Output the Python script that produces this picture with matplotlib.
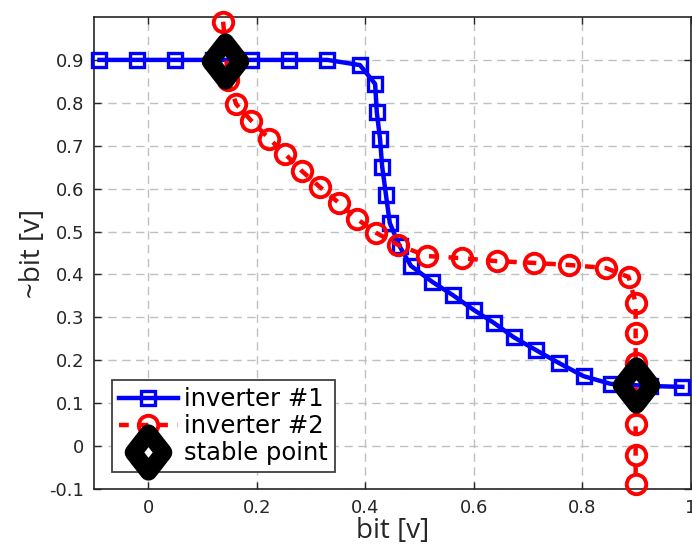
import matplotlib
matplotlib.use("Agg")
import matplotlib.pyplot as plt
from matplotlib.path import Path
from matplotlib.markers import MarkerStyle

# inverter #1 (blue squares)
inv1_x = [-0.09, -0.02, 0.05, 0.12, 0.19, 0.26, 0.33, 0.39, 0.418, 0.421, 0.427, 0.431,
          0.438, 0.445, 0.463, 0.484, 0.523, 0.561, 0.600, 0.637, 0.673, 0.714, 0.756,
          0.802, 0.852, 0.925, 0.984]
inv1_y = [0.9, 0.9, 0.9, 0.9, 0.9, 0.9, 0.9, 0.888, 0.844, 0.779, 0.716, 0.651,
          0.585, 0.520, 0.466, 0.420, 0.383, 0.352, 0.317, 0.287, 0.254, 0.224, 0.194,
          0.163, 0.145, 0.140, 0.138]

# inverter #2 (red circles)
inv2_x = [0.138, 0.147, 0.162, 0.190, 0.223, 0.252, 0.283, 0.316, 0.351, 0.385, 0.420,
          0.460, 0.513, 0.578, 0.642, 0.710, 0.776, 0.843, 0.885, 0.898, 0.898, 0.898,
          0.898, 0.898, 0.898, 0.898]
inv2_y = [0.989, 0.853, 0.797, 0.758, 0.716, 0.681, 0.641, 0.604, 0.567, 0.529, 0.497,
          0.469, 0.443, 0.438, 0.431, 0.427, 0.422, 0.415, 0.394, 0.334, 0.264, 0.194,
          0.142, 0.052, -0.021, -0.088]

# stable points
stable_x = [0.142, 0.898]
stable_y = [0.898, 0.142]

xticks = [0, 0.2, 0.4, 0.6, 0.8, 1.0]
xtick_labels = ["0", "0.2", "0.4", "0.6", "0.8", "1"]
yticks = [-0.1, 0, 0.1, 0.2, 0.3, 0.4, 0.5, 0.6, 0.7, 0.8, 0.9]
ytick_labels = ["-0.1", "0", "0.1", "0.2", "0.3", "0.4", "0.5", "0.6", "0.7", "0.8", "0.9"]

plt.rcParams["font.family"] = ["DejaVu Sans"]

fig = plt.figure(figsize=(6.92, 5.52), dpi=100)
ax = fig.add_axes([94 / 692, 1 - 489 / 552, 597 / 692, 472 / 552])

ax.plot(inv1_x, inv1_y, color="#0000ff", linewidth=3.2, marker="s", markersize=10,
        markerfacecolor="none", markeredgewidth=2.4, label="inverter #1",
        clip_on=False, zorder=3)
ax.plot(inv2_x, inv2_y, color="#ff0000", linewidth=3.2, linestyle=(0, (2.2, 2.2)),
        marker="o", markersize=14, markerfacecolor="none", markeredgewidth=2.8,
        label="inverter #2", clip_on=False, zorder=4)

# hollow diamond with very thick edge (small hole in the middle)
diamond = Path([(0, 1), (0.78, 0), (0, -1), (-0.78, 0), (0, 1)],
               [Path.MOVETO, Path.LINETO, Path.LINETO, Path.LINETO, Path.CLOSEPOLY])
ax.plot(stable_x, stable_y, linestyle="none",
        marker=MarkerStyle(diamond, joinstyle="miter"), markersize=28,
        markerfacecolor="none", markeredgecolor="black", markeredgewidth=12.5,
        label="stable point", clip_on=False, zorder=5)

ax.set_xlim(-0.1, 1.0)
ax.set_ylim(-0.1, 1.0)
ax.set_xticks(xticks)
ax.set_xticklabels(xtick_labels)
ax.set_yticks(yticks)
ax.set_yticklabels(ytick_labels)
ax.tick_params(direction="in", top=True, right=True, length=5, width=1,
               labelsize=13, colors="#262626", pad=7)
for s in ax.spines.values():
    s.set_color("#262626")
    s.set_linewidth(1.2)

ax.grid(True, color="#c0c0c0", linestyle=(0, (6, 4)), linewidth=1)
ax.set_axisbelow(True)

ax.set_xlabel("bit [v]", fontsize=20, family="Open Sans", color="#262626", labelpad=0)
ax.set_ylabel("~bit [v]", fontsize=20, family="Open Sans", color="#262626", labelpad=2)

leg = ax.legend(loc="lower left", bbox_to_anchor=(0.03, 0.035), fontsize=17.5,
                fancybox=False, framealpha=1, edgecolor="#404040",
                handlelength=2.4, handletextpad=0.25, labelspacing=0.12,
                borderpad=0.3, borderaxespad=0)
leg.get_frame().set_linewidth(1.3)

fig.savefig("out.png", dpi=100)
